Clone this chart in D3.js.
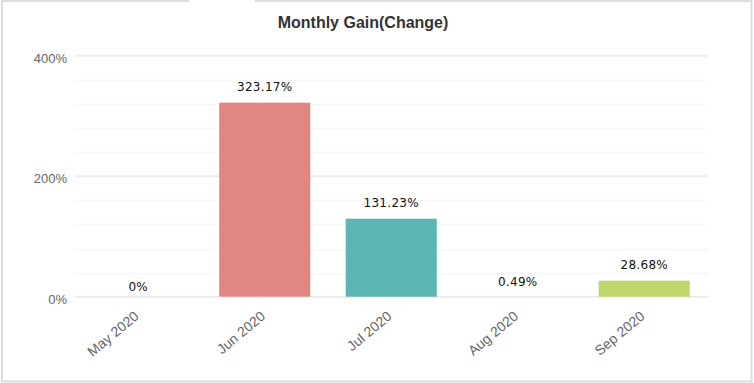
<!DOCTYPE html>
<html><head><meta charset="utf-8">
<script src="https://cdn.jsdelivr.net/npm/d3@7"></script>
<style>html,body{margin:0;padding:0;background:#fff;}svg{display:block;}</style>
</head><body>
<script>
const categories = ["May 2020","Jun 2020","Jul 2020","Aug 2020","Sep 2020"];
const values = [0, 323.17, 131.23, 0.49, 28.68];
const valueLabels = ["0%","323.17%","131.23%","0.49%","28.68%"];
const colors = ["#e08784","#e08784","#5bb5b5","#e08784","#bfd66b"];
const majorTicks = [0, 200, 400];
const minorTicks = [40, 80, 120, 160, 240, 280, 320, 360];
const title = "Monthly Gain(Change)";

const W = 754, H = 383;
const svg = d3.select("body").append("svg").attr("width", W).attr("height", H);

// frame
const fr = svg.append("g").attr("stroke", "#dcdcdc").attr("stroke-width", 2).attr("fill", "none");
fr.append("path").attr("d", `M189,1 H2 V381.5 H751.5 V1 H255`);

const x = d3.scaleBand().domain(categories).range([75, 707.5]).paddingInner(0.28).paddingOuter(0.14);
const y = d3.scaleLinear().domain([0, 400]).range([296.7, 55.7]);

// grid
svg.append("g").selectAll("line").data(minorTicks).join("line")
  .attr("x1", 75).attr("x2", 708).attr("y1", d => Math.round(y(d)) + 0.5).attr("y2", d => Math.round(y(d)) + 0.5)
  .attr("stroke", "#f6f6f6").attr("stroke-width", 1.5);
svg.append("g").selectAll("line").data(majorTicks).join("line")
  .attr("x1", 75).attr("x2", 708).attr("y1", d => y(d)).attr("y2", d => y(d))
  .attr("stroke", "#ebebeb").attr("stroke-width", 2);

// y axis labels
const yAxis = d3.axisLeft(y).tickValues(majorTicks).tickFormat(d => d + "%").tickSize(0).tickPadding(0);
const gy = svg.append("g").attr("transform", "translate(67,2.5)").call(yAxis);
gy.select(".domain").remove();
gy.selectAll("text").attr("fill", "#666").style("font-family", "'Liberation Sans', Arial, sans-serif").style("font-size", "13px");

// bars (heights rounded to whole pixels)
svg.append("g").selectAll("rect").data(values).join("rect")
  .attr("x", (d, i) => x(categories[i]))
  .attr("width", x.bandwidth())
  .attr("y", d => y(0) - Math.round(y(0) - y(d)) + 1)
  .attr("height", d => Math.max(0, Math.round(y(0) - y(d)) - 1))
  .attr("fill", (d, i) => colors[i]);

// value labels
svg.append("g").selectAll("text").data(values).join("text")
  .attr("x", (d, i) => x(categories[i]) + x.bandwidth() / 2)
  .attr("y", d => d === 0 ? y(d) - 6 : y(d) - 10.5)
  .attr("text-anchor", "middle")
  .attr("fill", "#111")
  .style("font-family", "'DejaVu Sans', Verdana, sans-serif")
  .style("font-size", "12px")
  .style("letter-spacing", "0.3px")
  .text((d, i) => valueLabels[i]);

// x axis labels
const xAxis = d3.axisBottom(x).tickSize(0).tickPadding(0);
const gx = svg.append("g").attr("transform", "translate(-5,310)").call(xAxis);
gx.select(".domain").remove();
gx.selectAll("text")
  .attr("fill", "#666")
  .style("font-family", "'Liberation Sans', Arial, sans-serif").style("font-size", "14px")
  .attr("text-anchor", "end").attr("dy", "0.71em").attr("y", 0)
  .attr("transform", "rotate(-40)");

// title
svg.append("text").attr("x", 363).attr("y", 28).attr("text-anchor", "middle")
  .attr("fill", "#333").style("font-family", "'Liberation Sans', Arial, sans-serif")
  .style("font-size", "16px").style("font-weight", "bold").text(title);
</script>
</body></html>
